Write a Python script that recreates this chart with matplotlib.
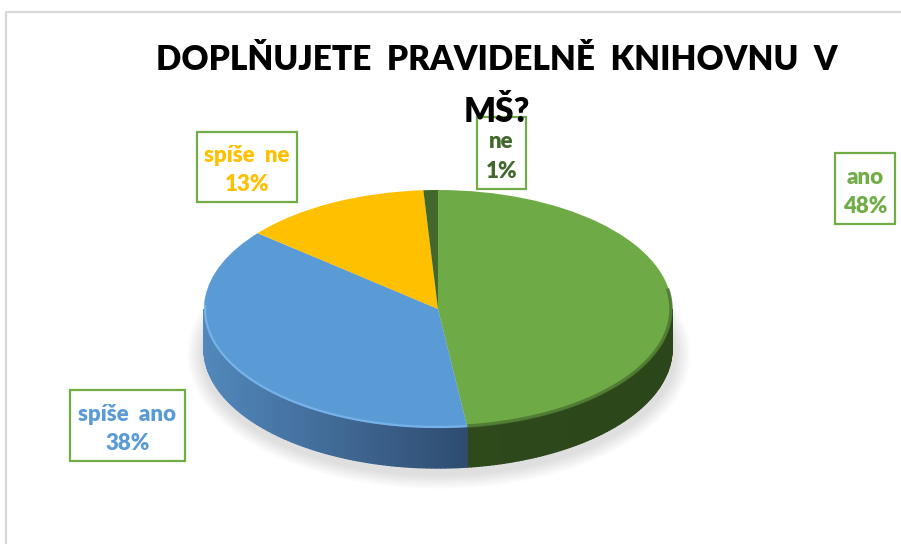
import numpy as np
import matplotlib
matplotlib.use("Agg")
import matplotlib.pyplot as plt
from matplotlib.patches import Ellipse, Rectangle
from matplotlib.transforms import Affine2D

# data
categories = ["ano", "spíše ano", "spíše ne", "ne"]
values = [48, 38, 13, 1]
percent_labels = ["48%", "38%", "13%", "1%"]
title_lines = ["DOPLŇUJETE  PRAVIDELNĚ  KNIHOVNU  V", "MŠ?"]

colors = ["#6EAA46", "#5B9BD5", "#FFC000", "#43682B"]
label_colors = ["#70AD47", "#5B9BD5", "#FFC000", "#43682B"]
wall_left = ["#2E4A1B", "#5288BC", "#997300", "#2E4A1B"]
wall_right = ["#2B461A", "#2F4C70", "#997300", "#2E4A1B"]
box_color = "#70AD47"

# pie geometry in pixels
cx, cy = 438, 309
rx, ry = 234, 119
depth = 40
W, H = 901, 544
font = ["Lato", "DejaVu Sans"]


def hex_rgb(c):
    return np.array(matplotlib.colors.to_rgb(c))


fig = plt.figure(figsize=(W / 100, H / 100), dpi=100)
ax = fig.add_axes([0, 0, 1, 1])
ax.set_xlim(0, W)
ax.set_ylim(H, 0)
ax.axis("off")

# chart frame
ax.plot([6, 6, W], [H, 12, 12], color="#D9D9D9", lw=1.6, zorder=1)

# soft shadow under the disc
for i in range(16):
    grow = 18 - i
    ax.add_patch(Ellipse((cx + 1, cy + depth + 5), 2 * (rx + grow), 2 * (ry + grow * 0.9),
                         fc="#000000", ec="none", alpha=0.009, zorder=2))

# side wall, front half only
edges = np.concatenate([[0], np.cumsum(values)]) / sum(values) * 360
for k in range(len(values)):
    a0 = max(edges[k], 90)
    a1 = min(edges[k + 1], 270)
    if a1 <= a0:
        continue
    # x runs right to left as the angle goes clockwise from the top
    th = np.linspace(a0, a1, 90)
    c_l, c_r = hex_rgb(wall_left[k]), hex_rgb(wall_right[k])
    x = cx + rx * np.sin(np.radians(th))
    y = cy - ry * np.cos(np.radians(th))
    for j in range(len(th) - 1):
        f = (x[j] - x.min()) / (x.max() - x.min())
        col = c_l + (c_r - c_l) * f
        ax.fill([x[j], x[j + 1], x[j + 1], x[j]],
                [y[j], y[j + 1], y[j + 1] + depth, y[j] + depth],
                fc=col, ec=col, lw=1.0, zorder=3)

# top face
wedges, _ = ax.pie(values, colors=colors, startangle=90, counterclock=False, frame=True)
to_px = Affine2D().scale(rx, -ry).translate(cx, cy) + ax.transData
for w in wedges:
    w.set_transform(to_px)
    w.set_zorder(4)
    w.set_edgecolor("none")
ax.set_xlim(0, W)
ax.set_ylim(H, 0)
ax.set_aspect("auto")
ax.axis("off")

# rim shading along the front edge of the disc
for k, (rim, lw) in enumerate([("#4A7430", 2.5), ("#7DB8EE", 1.6)]):
    th = np.linspace(max(edges[k], 80), min(edges[k + 1], 272), 200)
    ax.plot(cx + (rx - 1) * np.sin(np.radians(th)), cy - (ry - 1) * np.cos(np.radians(th)),
            color=rim, lw=lw, alpha=0.8, zorder=5, solid_capstyle="butt")

# title
title_y = [60, 112]
for line, y in zip(title_lines, title_y):
    ax.text(497, y, line, ha="center", va="center", fontsize=24, fontweight="heavy",
            family=font, color="black", zorder=8)

# data labels
boxes = [(835, 153, 60, 71), (70, 390, 115, 71), (197, 132, 100, 70), (477, 117, 49, 72)]
for name, pct, col, (bx, by, bw, bh) in zip(categories, percent_labels, label_colors, boxes):
    ax.add_patch(Rectangle((bx, by), bw, bh, fc="none", ec=box_color, lw=1.6, zorder=7))
    ax.text(bx + bw / 2, by + bh * 0.34, name.replace(" ", "  "), ha="center", va="center", fontsize=16,
            fontweight="heavy", family=font, color=col, zorder=8)
    ax.text(bx + bw / 2, by + bh * 0.75, pct, ha="center", va="center", fontsize=16,
            fontweight="heavy", family=font, color=col, zorder=8)

fig.savefig("out.png", dpi=100, facecolor="white")
